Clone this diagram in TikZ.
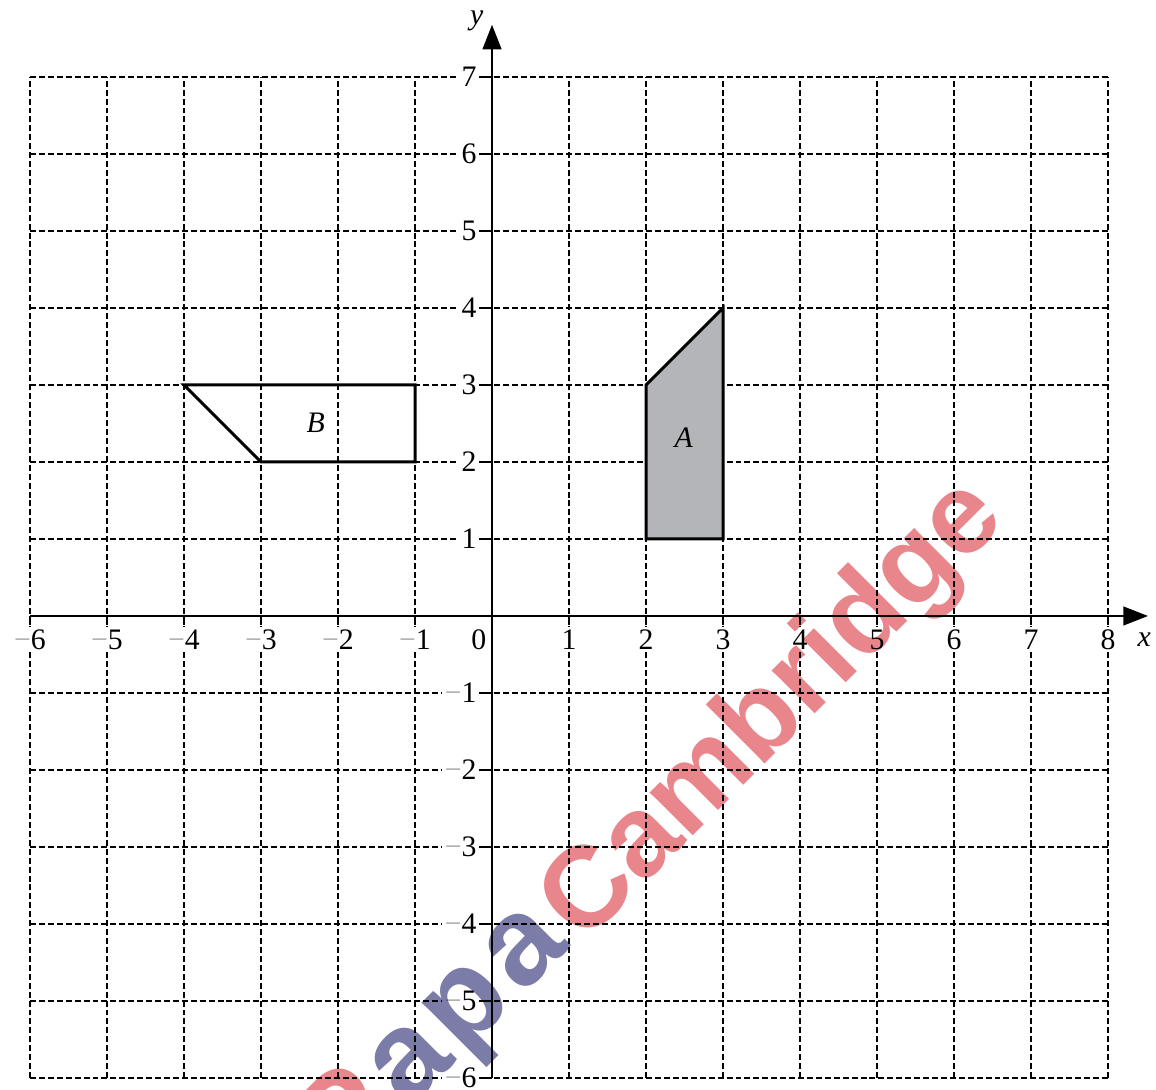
\documentclass[tikz,border=0pt]{standalone}
\usepackage{fontspec}
\setmainfont{Liberation Serif}
\newfontfamily\wmfont{Liberation Sans}
\usetikzlibrary{arrows.meta}
\definecolor{minusgrey}{HTML}{A8A8A8}
\definecolor{shadeA}{HTML}{B3B5B8}
\definecolor{wmred}{HTML}{E9868C}
\definecolor{wmblue}{HTML}{7C7CA8}
\newcommand{\mn}{\textcolor{minusgrey}{−}}
\newcommand{\wk}{\kern 3pt}
\tikzset{
  gridline/.style={line width=0.5pt, dash pattern=on 2.2pt off 1.1pt},
  axisline/.style={line width=1pt, -{Triangle[length=0.32cm,width=0.24cm]}},
  tickmark/.style={line width=1pt},
  polyline/.style={line width=1.1pt, line join=miter},
  numlabel/.style={font=\fontsize{11}{12}\selectfont, fill=white, inner sep=1pt},
  letterlabel/.style={font=\fontsize{11}{12}\selectfont\itshape, inner sep=0pt},
  watermark/.style={rotate=45, inner sep=0pt, font=\wmfont\bfseries\fontsize{42.5}{42}\selectfont},
  watermarkbig/.style={rotate=45, inner sep=0pt, font=\wmfont\bfseries\fontsize{46}{46}\selectfont}
}
\begin{document}
\begin{tikzpicture}
\useasboundingbox (-6.39,-6.156) rectangle (8.623,8.0);
% grid
\foreach \x in {-6,...,8} \draw[gridline] (\x,-6) -- (\x,7);
\foreach \y in {-6,...,7} \draw[gridline] (-6,\y) -- (8,\y);
% shapes
\coordinate (A1) at (2,1);
\coordinate (A2) at (3,1);
\coordinate (A3) at (3,4);
\coordinate (A4) at (2,3);
\coordinate (B1) at (-4,3);
\coordinate (B2) at (-1,3);
\coordinate (B3) at (-1,2);
\coordinate (B4) at (-3,2);
\draw[polyline, fill=shadeA] (A1) -- (A2) -- (A3) -- (A4) -- cycle;
\draw[polyline] (B1) -- (B2) -- (B3) -- (B4) -- cycle;
\node[letterlabel] (labA) at (2.49,2.31) {A};
\node[letterlabel] (labB) at (-2.29,2.51) {B};
% axes
\coordinate (xs) at (-6,0);
\coordinate (xe) at (8.52,0);
\coordinate (ys) at (0,-6);
\coordinate (ye) at (0,7.68);
\draw[axisline] (xs) -- (xe);
\draw[axisline] (ys) -- (ye);
\node[letterlabel] (xlab) at (8.47,-0.31) {x};
\node[letterlabel] (ylab) at (-0.2,7.73) {y};
% labels
\foreach \x in {1,...,8} \node[numlabel, anchor=base] (xl\x) at (\x,-0.435) {\x};
\foreach \x in {1,...,6} \node[numlabel, anchor=base] (xm\x) at (-\x,-0.435) {\mn\x};
\node[numlabel, anchor=base] (orig) at (-0.17,-0.435) {0};
\foreach \y in {1,...,7} \node[numlabel, anchor=base east] (yl\y) at (-0.16,\y-0.125) {\y};
\foreach \y in {1,...,6} \node[numlabel, anchor=base east] (ym\y) at (-0.16,-\y-0.125) {\mn\y};
% ticks
\foreach \x in {-6,...,-1,1,2,...,8} \draw[tickmark] (\x,0) -- (\x,-0.12);
\foreach \y in {-6,...,-1,1,2,...,7} \draw[tickmark] (0,\y) -- (-0.12,\y);
% watermark, overlaid with multiply so that the drawing shows through
\begin{scope}[blend mode=multiply]
\coordinate (wmc) at (1.182,-4.286);
\coordinate (wmp) at (1.110,-4.214);
\node[watermark, anchor=base west] (wm2) at (wmc) {\textcolor{wmred}{Cambridge}};
\node[watermarkbig, anchor=base east] (wm1) at (wmp) {\textcolor{wmred}{P}\wk\textcolor{wmblue}{a\wk p\wk a}\wk};
\end{scope}
\end{tikzpicture}
\end{document}
